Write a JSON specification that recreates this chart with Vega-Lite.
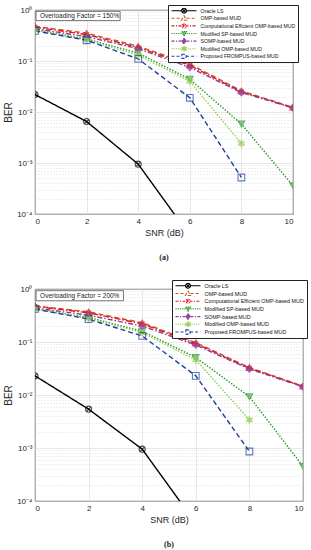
{
  "$schema": "https://vega.github.io/schema/vega-lite/v6.json",
  "background": "white",
  "padding": {"left": 3, "top": 4, "right": 2, "bottom": 2},
  "spacing": 16,
  "config": {
    "font": "Liberation Sans",
    "view": {"stroke": "#262626", "strokeWidth": 0.8},
    "axis": {"labelFont": "Liberation Sans", "labelFontSize": 8, "labelColor": "#262626", "titleFont": "Liberation Sans", "titleFontWeight": "normal", "titleColor": "#262626", "domain": false, "ticks": false, "gridColor": "#d6d6d6", "gridWidth": 0.6},
    "legend": {"labelFont": "Liberation Sans"}
  },
  "datasets": {
    "a150": [
      {"snr": 0, "ber": 0.022, "series": "Oracle LS"},
      {"snr": 2, "ber": 0.0065, "series": "Oracle LS"},
      {"snr": 4, "ber": 0.00095, "series": "Oracle LS"},
      {"snr": 6, "ber": 0.000038, "series": "Oracle LS"},
      {"snr": 0, "ber": 0.48, "series": "OMP-based MUD"},
      {"snr": 2, "ber": 0.35, "series": "OMP-based MUD"},
      {"snr": 4, "ber": 0.195, "series": "OMP-based MUD"},
      {"snr": 6, "ber": 0.087, "series": "OMP-based MUD"},
      {"snr": 8, "ber": 0.026, "series": "OMP-based MUD"},
      {"snr": 10, "ber": 0.0123, "series": "OMP-based MUD"},
      {"snr": 0, "ber": 0.46, "series": "Computational Efficient OMP-based MUD"},
      {"snr": 2, "ber": 0.33, "series": "Computational Efficient OMP-based MUD"},
      {"snr": 4, "ber": 0.185, "series": "Computational Efficient OMP-based MUD"},
      {"snr": 6, "ber": 0.082, "series": "Computational Efficient OMP-based MUD"},
      {"snr": 8, "ber": 0.025, "series": "Computational Efficient OMP-based MUD"},
      {"snr": 10, "ber": 0.012, "series": "Computational Efficient OMP-based MUD"},
      {"snr": 0, "ber": 0.41, "series": "Modified SP-based MUD"},
      {"snr": 2, "ber": 0.27, "series": "Modified SP-based MUD"},
      {"snr": 4, "ber": 0.143, "series": "Modified SP-based MUD"},
      {"snr": 6, "ber": 0.044, "series": "Modified SP-based MUD"},
      {"snr": 8, "ber": 0.0058, "series": "Modified SP-based MUD"},
      {"snr": 10, "ber": 0.00036, "series": "Modified SP-based MUD"},
      {"snr": 0, "ber": 0.43, "series": "SOMP-based MUD"},
      {"snr": 2, "ber": 0.30, "series": "SOMP-based MUD"},
      {"snr": 4, "ber": 0.175, "series": "SOMP-based MUD"},
      {"snr": 6, "ber": 0.075, "series": "SOMP-based MUD"},
      {"snr": 8, "ber": 0.024, "series": "SOMP-based MUD"},
      {"snr": 10, "ber": 0.0122, "series": "SOMP-based MUD"},
      {"snr": 0, "ber": 0.40, "series": "Modified OMP-based MUD"},
      {"snr": 2, "ber": 0.26, "series": "Modified OMP-based MUD"},
      {"snr": 4, "ber": 0.13, "series": "Modified OMP-based MUD"},
      {"snr": 6, "ber": 0.040, "series": "Modified OMP-based MUD"},
      {"snr": 8, "ber": 0.0024, "series": "Modified OMP-based MUD"},
      {"snr": 0, "ber": 0.39, "series": "Proposed FROMPUS-based MUD"},
      {"snr": 2, "ber": 0.255, "series": "Proposed FROMPUS-based MUD"},
      {"snr": 4, "ber": 0.11, "series": "Proposed FROMPUS-based MUD"},
      {"snr": 6, "ber": 0.019, "series": "Proposed FROMPUS-based MUD"},
      {"snr": 8, "ber": 0.00052, "series": "Proposed FROMPUS-based MUD"}
    ],
    "b200": [
      {"snr": 0, "ber": 0.023, "series": "Oracle LS"},
      {"snr": 2, "ber": 0.0054, "series": "Oracle LS"},
      {"snr": 4, "ber": 0.00095, "series": "Oracle LS"},
      {"snr": 6, "ber": 0.000038, "series": "Oracle LS"},
      {"snr": 0, "ber": 0.48, "series": "OMP-based MUD"},
      {"snr": 2, "ber": 0.37, "series": "OMP-based MUD"},
      {"snr": 4, "ber": 0.23, "series": "OMP-based MUD"},
      {"snr": 6, "ber": 0.097, "series": "OMP-based MUD"},
      {"snr": 8, "ber": 0.033, "series": "OMP-based MUD"},
      {"snr": 10, "ber": 0.0147, "series": "OMP-based MUD"},
      {"snr": 0, "ber": 0.47, "series": "Computational Efficient OMP-based MUD"},
      {"snr": 2, "ber": 0.355, "series": "Computational Efficient OMP-based MUD"},
      {"snr": 4, "ber": 0.22, "series": "Computational Efficient OMP-based MUD"},
      {"snr": 6, "ber": 0.093, "series": "Computational Efficient OMP-based MUD"},
      {"snr": 8, "ber": 0.032, "series": "Computational Efficient OMP-based MUD"},
      {"snr": 10, "ber": 0.0145, "series": "Computational Efficient OMP-based MUD"},
      {"snr": 0, "ber": 0.42, "series": "Modified SP-based MUD"},
      {"snr": 2, "ber": 0.29, "series": "Modified SP-based MUD"},
      {"snr": 4, "ber": 0.16, "series": "Modified SP-based MUD"},
      {"snr": 6, "ber": 0.051, "series": "Modified SP-based MUD"},
      {"snr": 8, "ber": 0.0093, "series": "Modified SP-based MUD"},
      {"snr": 10, "ber": 0.00045, "series": "Modified SP-based MUD"},
      {"snr": 0, "ber": 0.44, "series": "SOMP-based MUD"},
      {"snr": 2, "ber": 0.32, "series": "SOMP-based MUD"},
      {"snr": 4, "ber": 0.20, "series": "SOMP-based MUD"},
      {"snr": 6, "ber": 0.088, "series": "SOMP-based MUD"},
      {"snr": 8, "ber": 0.031, "series": "SOMP-based MUD"},
      {"snr": 10, "ber": 0.0143, "series": "SOMP-based MUD"},
      {"snr": 0, "ber": 0.42, "series": "Modified OMP-based MUD"},
      {"snr": 2, "ber": 0.28, "series": "Modified OMP-based MUD"},
      {"snr": 4, "ber": 0.15, "series": "Modified OMP-based MUD"},
      {"snr": 6, "ber": 0.046, "series": "Modified OMP-based MUD"},
      {"snr": 8, "ber": 0.0034, "series": "Modified OMP-based MUD"},
      {"snr": 0, "ber": 0.42, "series": "Proposed FROMPUS-based MUD"},
      {"snr": 2, "ber": 0.27, "series": "Proposed FROMPUS-based MUD"},
      {"snr": 4, "ber": 0.13, "series": "Proposed FROMPUS-based MUD"},
      {"snr": 6, "ber": 0.023, "series": "Proposed FROMPUS-based MUD"},
      {"snr": 8, "ber": 0.00086, "series": "Proposed FROMPUS-based MUD"}
    ]
  },
  "vconcat": [
    {
      "width": 258,
      "height": 204,
      "title": {"text": "(a)", "orient": "bottom", "font": "Liberation Serif", "fontSize": 8, "fontWeight": "bold", "offset": 17, "color": "#222222"},
      "data": {"name": "a150"},
      "resolve": {"axis": {"y": "independent"}},
      "layer": [
        {
          "mark": {"type": "line", "clip": true, "strokeWidth": 1.4},
          "encoding": {
            "x": {"field": "snr", "type": "quantitative", "scale": {"domain": [0, 10], "nice": false}, "axis": {"values": [0, 1, 2, 3, 4, 5, 6, 7, 8, 9, 10], "title": "SNR (dB)", "titleFontSize": 9, "grid": true, "labelPadding": 3, "titlePadding": 3}},
            "y": {"field": "ber", "type": "quantitative", "scale": {"type": "log", "domain": [0.0001, 1], "nice": false}, "axis": {"values": [0.0001, 0.001, 0.01, 0.1, 1], "labelExpr": "datum.value >= 0.5 ? '10⁰' : datum.value >= 0.05 ? '10⁻¹' : datum.value >= 0.005 ? '10⁻²' : datum.value >= 0.0005 ? '10⁻³' : '10⁻⁴'", "title": "BER", "titleFontSize": 10, "grid": true, "labelPadding": 3, "titlePadding": 3}},
            "color": {
              "field": "series", "type": "nominal",
              "scale": {"domain": ["Oracle LS", "OMP-based MUD", "Computational Efficient OMP-based MUD", "Modified SP-based MUD", "SOMP-based MUD", "Modified OMP-based MUD", "Proposed FROMPUS-based MUD"], "range": ["#000000", "#c0571e", "#e8141c", "#2e9a2e", "#8e3a9e", "#92d050", "#1f3f9e"]},
              "legend": {
                "title": null, "orient": "none", "legendX": 133, "legendY": -5,
                "fillColor": "white", "strokeColor": "#222222", "padding": 2.5,
                "labelFontSize": 5.15, "labelColor": "#111111", "labelOffset": 22, "rowPadding": 0.6, "clipHeight": 6.4,
                "symbolSize": 36, "symbolStrokeWidth": 1.1, "labelLimit": 200,
                "encode": {"symbols": {"update": {
                  "shape": {"signal": "datum.value == 'Oracle LS' ? 'M-1,0H2.37M3.97,0H7.33M3.97,0A0.8,0.8,0,1,1,2.37,0A0.8,0.8,0,1,1,3.97,0M2.6,-0.57L3.74,0.57M2.6,0.57L3.74,-0.57' : datum.value == 'OMP-based MUD' ? 'M-1,0H2.32M4.02,0H7.33M3.17,-0.85L4.02,0.65L2.32,0.65Z' : datum.value == 'Computational Efficient OMP-based MUD' ? 'M-1,0H7.33M3.17,-0.85V0.85M2.47,-0.6L3.87,0.6M2.47,0.6L3.87,-0.6' : datum.value == 'Modified SP-based MUD' ? 'M-1,0H2.32M4.02,0H7.33M3.17,0.85L4.02,-0.65L2.32,-0.65Z' : datum.value == 'SOMP-based MUD' ? 'M-1,0H2.37M3.97,0H7.33M3.17,-0.95L3.97,0L3.17,0.95L2.37,0Z' : datum.value == 'Modified OMP-based MUD' ? 'M-1,0H2.72M3.62,0H7.33M3.17,-0.9L3.395,-0.39L3.949,-0.45L3.62,0L3.949,0.45L3.395,0.39L3.17,0.9L2.945,0.39L2.391,0.45L2.72,0L2.391,-0.45L2.945,-0.39Z' : 'M-1,0H2.47M3.87,0H7.33M2.47,-0.7H3.87V0.7H2.47Z'"},
                  "strokeDash": {"signal": "datum.value == 'Oracle LS' ? [1,0] : datum.value == 'OMP-based MUD' ? [3,2] : datum.value == 'Computational Efficient OMP-based MUD' ? [3,1.5,1,1.5] : datum.value == 'Modified SP-based MUD' ? [1.2,1] : datum.value == 'SOMP-based MUD' ? [3,1.5,1,1.5] : datum.value == 'Modified OMP-based MUD' ? [1.2,1] : [3,2]"},
                  "fill": {"signal": "datum.value == 'SOMP-based MUD' ? '#a23ca6' : datum.value == 'Modified OMP-based MUD' ? '#92d050' : datum.value == 'Modified SP-based MUD' ? '#5fbf5f' : datum.value == 'Computational Efficient OMP-based MUD' ? '#e8141c' : 'transparent'"}
                }}}
              }
            },
            "strokeDash": {"field": "series", "type": "nominal", "legend": null,
              "scale": {"domain": ["OMP-based MUD", "Computational Efficient OMP-based MUD", "Modified SP-based MUD", "SOMP-based MUD", "Modified OMP-based MUD", "Proposed FROMPUS-based MUD", "Oracle LS"], "range": [[5, 3], [6, 2, 1.5, 2], [1.5, 1.5], [5, 2, 1.5, 2], [1.5, 1.5], [5, 3], [1, 0]]}}
          }
        },
        {
          "mark": {"type": "point", "clip": true, "filled": true, "size": 45, "strokeWidth": 1.1},
          "encoding": {
            "x": {"field": "snr", "type": "quantitative"},
            "y": {"field": "ber", "type": "quantitative", "axis": {"values": [0.0002, 0.0003, 0.0004, 0.0005, 0.0006, 0.0007, 0.0008, 0.0009, 0.002, 0.003, 0.004, 0.005, 0.006, 0.007, 0.008, 0.009, 0.02, 0.03, 0.04, 0.05, 0.06, 0.07, 0.08, 0.09, 0.2, 0.3, 0.4, 0.5, 0.6, 0.7, 0.8, 0.9], "grid": true, "labels": false, "ticks": false, "domain": false, "title": null, "orient": "left", "gridDash": [1, 2], "gridColor": "#cfcfcf"}},
            "shape": {"field": "series", "type": "nominal", "legend": null,
              "scale": {"domain": ["Proposed FROMPUS-based MUD", "Modified OMP-based MUD", "SOMP-based MUD", "Modified SP-based MUD", "Computational Efficient OMP-based MUD", "OMP-based MUD", "Oracle LS"], "range": ["square", "M0,-1L0.25,-0.433L0.866,-0.5L0.5,0L0.866,0.5L0.25,0.433L0,1L-0.25,0.433L-0.866,0.5L-0.5,0L-0.866,-0.5L-0.25,-0.433Z", "diamond", "triangle-down", "M-1,0H1M0,-1V1M-0.7,-0.7L0.7,0.7M-0.7,0.7L0.7,-0.7", "triangle-up", "M0.9,0A0.9,0.9,0,1,1,-0.9,0A0.9,0.9,0,1,1,0.9,0M-0.64,-0.64L0.64,0.64M-0.64,0.64L0.64,-0.64"]}},
            "stroke": {"field": "series", "type": "nominal", "legend": null,
              "scale": {"domain": ["Computational Efficient OMP-based MUD", "Modified SP-based MUD", "SOMP-based MUD", "Modified OMP-based MUD", "Proposed FROMPUS-based MUD", "Oracle LS", "OMP-based MUD"], "range": ["#e8141c", "#2e9a2e", "#8e3a9e", "#92d050", "#1f3f9e", "#000000", "#c0571e"]}},
            "fill": {"field": "series", "type": "nominal", "legend": null,
              "scale": {"domain": ["Modified SP-based MUD", "SOMP-based MUD", "Modified OMP-based MUD", "Proposed FROMPUS-based MUD", "Oracle LS", "OMP-based MUD", "Computational Efficient OMP-based MUD"], "range": ["#5fbf5f", "#a23ca6", "#92d050", "transparent", "transparent", "transparent", "#e8141c"]}}
          }
        },
        {
          "data": {"values": [{"note": "Overloading Factor = 150%"}]},
          "mark": {"type": "rect", "fill": "white", "stroke": "#555555", "strokeWidth": 0.8},
          "encoding": {"x": {"datum": 0.04}, "x2": {"datum": 3.3}, "y": {"datum": 0.94, "axis": null}, "y2": {"datum": 0.62}}
        },
        {
          "data": {"values": [{"note": "Overloading Factor = 150%"}]},
          "mark": {"type": "text", "align": "left", "baseline": "middle", "fontSize": 6.5, "color": "#222222"},
          "encoding": {"x": {"datum": 0.19}, "y": {"datum": 0.76, "axis": null}, "text": {"field": "note"}}
        }
      ]
    },
    {
      "width": 268,
      "height": 212,
      "title": {"text": "(b)", "orient": "bottom", "font": "Liberation Serif", "fontSize": 8, "fontWeight": "bold", "offset": 17, "color": "#222222"},
      "data": {"name": "b200"},
      "resolve": {"axis": {"y": "independent"}},
      "layer": [
        {
          "mark": {"type": "line", "clip": true, "strokeWidth": 1.4},
          "encoding": {
            "x": {"field": "snr", "type": "quantitative", "scale": {"domain": [0, 10], "nice": false}, "axis": {"values": [0, 1, 2, 3, 4, 5, 6, 7, 8, 9, 10], "title": "SNR (dB)", "titleFontSize": 9, "grid": true, "labelPadding": 3, "titlePadding": 3}},
            "y": {"field": "ber", "type": "quantitative", "scale": {"type": "log", "domain": [0.0001, 1], "nice": false}, "axis": {"values": [0.0001, 0.001, 0.01, 0.1, 1], "labelExpr": "datum.value >= 0.5 ? '10⁰' : datum.value >= 0.05 ? '10⁻¹' : datum.value >= 0.005 ? '10⁻²' : datum.value >= 0.0005 ? '10⁻³' : '10⁻⁴'", "title": "BER", "titleFontSize": 10, "grid": true, "labelPadding": 3, "titlePadding": 3}},
            "color": {
              "field": "series", "type": "nominal",
              "scale": {"domain": ["Oracle LS", "OMP-based MUD", "Computational Efficient OMP-based MUD", "Modified SP-based MUD", "SOMP-based MUD", "Modified OMP-based MUD", "Proposed FROMPUS-based MUD"], "range": ["#000000", "#c0571e", "#e8141c", "#2e9a2e", "#8e3a9e", "#92d050", "#1f3f9e"]},
              "legend": {
                "title": null, "orient": "none", "legendX": 137, "legendY": -9,
                "fillColor": "white", "strokeColor": "#222222", "padding": 2.5,
                "labelFontSize": 5.4, "labelColor": "#111111", "labelOffset": 22, "rowPadding": 0.7, "clipHeight": 6.6,
                "symbolSize": 36, "symbolStrokeWidth": 1.1, "labelLimit": 200,
                "encode": {"symbols": {"update": {
                  "shape": {"signal": "datum.value == 'Oracle LS' ? 'M-1,0H2.37M3.97,0H7.33M3.97,0A0.8,0.8,0,1,1,2.37,0A0.8,0.8,0,1,1,3.97,0M2.6,-0.57L3.74,0.57M2.6,0.57L3.74,-0.57' : datum.value == 'OMP-based MUD' ? 'M-1,0H2.32M4.02,0H7.33M3.17,-0.85L4.02,0.65L2.32,0.65Z' : datum.value == 'Computational Efficient OMP-based MUD' ? 'M-1,0H7.33M3.17,-0.85V0.85M2.47,-0.6L3.87,0.6M2.47,0.6L3.87,-0.6' : datum.value == 'Modified SP-based MUD' ? 'M-1,0H2.32M4.02,0H7.33M3.17,0.85L4.02,-0.65L2.32,-0.65Z' : datum.value == 'SOMP-based MUD' ? 'M-1,0H2.37M3.97,0H7.33M3.17,-0.95L3.97,0L3.17,0.95L2.37,0Z' : datum.value == 'Modified OMP-based MUD' ? 'M-1,0H2.72M3.62,0H7.33M3.17,-0.9L3.395,-0.39L3.949,-0.45L3.62,0L3.949,0.45L3.395,0.39L3.17,0.9L2.945,0.39L2.391,0.45L2.72,0L2.391,-0.45L2.945,-0.39Z' : 'M-1,0H2.47M3.87,0H7.33M2.47,-0.7H3.87V0.7H2.47Z'"},
                  "strokeDash": {"signal": "datum.value == 'Oracle LS' ? [1,0] : datum.value == 'OMP-based MUD' ? [3,2] : datum.value == 'Computational Efficient OMP-based MUD' ? [3,1.5,1,1.5] : datum.value == 'Modified SP-based MUD' ? [1.2,1] : datum.value == 'SOMP-based MUD' ? [3,1.5,1,1.5] : datum.value == 'Modified OMP-based MUD' ? [1.2,1] : [3,2]"},
                  "fill": {"signal": "datum.value == 'SOMP-based MUD' ? '#a23ca6' : datum.value == 'Modified OMP-based MUD' ? '#92d050' : datum.value == 'Modified SP-based MUD' ? '#5fbf5f' : datum.value == 'Computational Efficient OMP-based MUD' ? '#e8141c' : 'transparent'"}
                }}}
              }
            },
            "strokeDash": {"field": "series", "type": "nominal", "legend": null,
              "scale": {"domain": ["OMP-based MUD", "Computational Efficient OMP-based MUD", "Modified SP-based MUD", "SOMP-based MUD", "Modified OMP-based MUD", "Proposed FROMPUS-based MUD", "Oracle LS"], "range": [[5, 3], [6, 2, 1.5, 2], [1.5, 1.5], [5, 2, 1.5, 2], [1.5, 1.5], [5, 3], [1, 0]]}}
          }
        },
        {
          "mark": {"type": "point", "clip": true, "filled": true, "size": 45, "strokeWidth": 1.1},
          "encoding": {
            "x": {"field": "snr", "type": "quantitative"},
            "y": {"field": "ber", "type": "quantitative", "axis": {"values": [0.0002, 0.0003, 0.0004, 0.0005, 0.0006, 0.0007, 0.0008, 0.0009, 0.002, 0.003, 0.004, 0.005, 0.006, 0.007, 0.008, 0.009, 0.02, 0.03, 0.04, 0.05, 0.06, 0.07, 0.08, 0.09, 0.2, 0.3, 0.4, 0.5, 0.6, 0.7, 0.8, 0.9], "grid": true, "labels": false, "ticks": false, "domain": false, "title": null, "orient": "left", "gridDash": [1, 2], "gridColor": "#cfcfcf"}},
            "shape": {"field": "series", "type": "nominal", "legend": null,
              "scale": {"domain": ["Proposed FROMPUS-based MUD", "Modified OMP-based MUD", "SOMP-based MUD", "Modified SP-based MUD", "Computational Efficient OMP-based MUD", "OMP-based MUD", "Oracle LS"], "range": ["square", "M0,-1L0.25,-0.433L0.866,-0.5L0.5,0L0.866,0.5L0.25,0.433L0,1L-0.25,0.433L-0.866,0.5L-0.5,0L-0.866,-0.5L-0.25,-0.433Z", "diamond", "triangle-down", "M-1,0H1M0,-1V1M-0.7,-0.7L0.7,0.7M-0.7,0.7L0.7,-0.7", "triangle-up", "M0.9,0A0.9,0.9,0,1,1,-0.9,0A0.9,0.9,0,1,1,0.9,0M-0.64,-0.64L0.64,0.64M-0.64,0.64L0.64,-0.64"]}},
            "stroke": {"field": "series", "type": "nominal", "legend": null,
              "scale": {"domain": ["Computational Efficient OMP-based MUD", "Modified SP-based MUD", "SOMP-based MUD", "Modified OMP-based MUD", "Proposed FROMPUS-based MUD", "Oracle LS", "OMP-based MUD"], "range": ["#e8141c", "#2e9a2e", "#8e3a9e", "#92d050", "#1f3f9e", "#000000", "#c0571e"]}},
            "fill": {"field": "series", "type": "nominal", "legend": null,
              "scale": {"domain": ["Modified SP-based MUD", "SOMP-based MUD", "Modified OMP-based MUD", "Proposed FROMPUS-based MUD", "Oracle LS", "OMP-based MUD", "Computational Efficient OMP-based MUD"], "range": ["#5fbf5f", "#a23ca6", "#92d050", "transparent", "transparent", "transparent", "#e8141c"]}}
          }
        },
        {
          "data": {"values": [{"note": "Overloading Factor = 200%"}]},
          "mark": {"type": "rect", "fill": "white", "stroke": "#555555", "strokeWidth": 0.8},
          "encoding": {"x": {"datum": 0.04}, "x2": {"datum": 3.3}, "y": {"datum": 0.93, "axis": null}, "y2": {"datum": 0.6}}
        },
        {
          "data": {"values": [{"note": "Overloading Factor = 200%"}]},
          "mark": {"type": "text", "align": "left", "baseline": "middle", "fontSize": 6.5, "color": "#222222"},
          "encoding": {"x": {"datum": 0.19}, "y": {"datum": 0.745, "axis": null}, "text": {"field": "note"}}
        }
      ]
    }
  ],
  "resolve": {"scale": {"color": "independent", "shape": "independent", "stroke": "independent", "fill": "independent", "strokeDash": "independent"}, "legend": {"color": "independent"}}
}
